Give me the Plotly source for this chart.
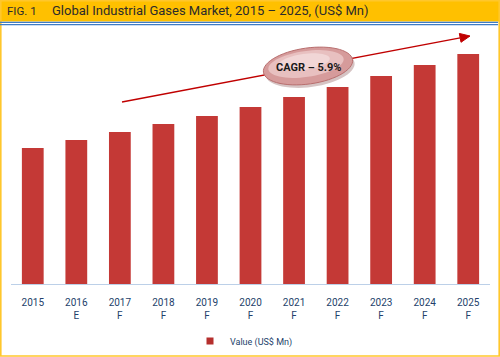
import math
import plotly.graph_objects as go

years = ["2015", "2016", "2017", "2018", "2019", "2020", "2021", "2022", "2023", "2024", "2025"]
suffix = ["", "E", "F", "F", "F", "F", "F", "F", "F", "F", "F"]
values = [136, 144, 152, 160, 168, 177, 187, 197, 208, 219, 230]
tick_labels = [y if s == "" else f"{y}<br>{s}" for y, s in zip(years, suffix)]

W, H = 500, 357
L, R, T, B = 11, 10, 34, 73
PW, PH = W - L - R, H - T - B


def px(x):
    return (x - L) / PW


def py(y):
    return (H - B - y) / PH


fig = go.Figure()
fig.add_trace(go.Bar(
    x=years, y=values, name="Value (US$ Mn)", showlegend=False,
    marker=dict(color="#C43936", line=dict(width=0)),
))
fig.add_trace(go.Scatter(
    x=[None], y=[None], mode="markers", name="Value (US$ Mn)",
    marker=dict(symbol="square", size=7, color="#B52F2D"),
))

shapes = []
shapes.append(dict(type="rect", xref="paper", yref="paper",
                   x0=px(0.8), x1=px(499.2), y0=py(0.8), y1=py(356),
                   line=dict(color="#FFC72C", width=1.6), fillcolor="rgba(0,0,0,0)", layer="above"))
shapes.append(dict(type="rect", xref="paper", yref="paper",
                   x0=px(0), x1=px(500), y0=py(0), y1=py(21.5),
                   line=dict(width=0), fillcolor="#FFC000", layer="below"))
for yy in (22.3, 24.7):
    shapes.append(dict(type="line", xref="paper", yref="paper",
                       x0=px(0), x1=px(498), y0=py(yy), y1=py(yy),
                       line=dict(color="#3F7CC4", width=1.2)))

tx0, ty0, tx1, ty1 = 122, 102, 470, 36
dl = math.hypot(tx1 - tx0, ty1 - ty0)
dx, dy = (tx1 - tx0) / dl, (ty1 - ty0) / dl
nx, ny = -dy, dx
bx, by = tx1 - 10 * dx, ty1 - 10 * dy
shapes.append(dict(type="line", xref="paper", yref="paper",
                   x0=px(tx0), y0=py(ty0), x1=px(bx), y1=py(by),
                   line=dict(color="#C00000", width=1.5)))
tri = "M{},{} L{},{} L{},{} Z".format(
    px(tx1), py(ty1),
    px(bx + 4.5 * nx), py(by + 4.5 * ny),
    px(bx - 4.5 * nx), py(by - 4.5 * ny))
shapes.append(dict(type="path", xref="paper", yref="paper", path=tri,
                   fillcolor="#C00000", line=dict(color="#C00000", width=1)))


def ellipse_path(cx, cy, rx, ry, ang_deg, n=60):
    a = math.radians(ang_deg)
    pts = []
    for i in range(n):
        t = 2 * math.pi * i / n
        ex, ey = rx * math.cos(t), ry * math.sin(t)
        xx = cx + ex * math.cos(a) - ey * math.sin(a)
        yy = cy + ex * math.sin(a) + ey * math.cos(a)
        pts.append((px(xx), py(yy)))
    return "M" + " L".join(f"{x:.5f},{y:.5f}" for x, y in pts) + " Z"


cx, cy = 308, 66
shapes.append(dict(type="path", xref="paper", yref="paper",
                   path=ellipse_path(cx + 2, cy + 3, 45, 18, -8),
                   fillcolor="rgba(120,60,60,0.30)", line=dict(width=0)))
shapes.append(dict(type="path", xref="paper", yref="paper",
                   path=ellipse_path(cx, cy, 45, 18, -8),
                   fillcolor="#D69B9B", line=dict(color="#B86E6E", width=1)))
shapes.append(dict(type="path", xref="paper", yref="paper",
                   path=ellipse_path(cx - 2, cy - 2, 38, 13, -8),
                   fillcolor="#E8C0C0", line=dict(width=0)))
shapes.append(dict(type="path", xref="paper", yref="paper",
                   path=ellipse_path(cx - 4, cy - 4, 26, 8, -8),
                   fillcolor="#F1D6D6", line=dict(width=0)))

annotations = [
    dict(text="FIG. 1", xref="paper", yref="paper", x=px(5), y=py(11),
         xanchor="left", yanchor="middle", showarrow=False,
         font=dict(family="Roboto", size=11.5, color="#2B2B2B")),
    dict(text="Global Industrial Gases Market, 2015 \u2013 2025, (US$ Mn)",
         xref="paper", yref="paper", x=px(50), y=py(11),
         xanchor="left", yanchor="middle", showarrow=False,
         font=dict(family="Roboto", size=13, color="#2B2B2B")),
    dict(text="CAGR \u2013 5.9%", xref="paper", yref="paper", x=px(cx), y=py(cy + 1),
         xanchor="center", yanchor="middle", showarrow=False,
         font=dict(family="Roboto", size=11, color="#1A1A1A", weight="bold")),
]

fig.update_layout(
    width=W, height=H,
    margin=dict(l=L, r=R, t=T, b=B, pad=0, autoexpand=False),
    paper_bgcolor="white", plot_bgcolor="white",
    bargap=0.5,
    showlegend=True,
    legend=dict(orientation="h", x=px(190), xanchor="left", y=py(341), yanchor="middle",
                font=dict(family="Roboto", size=9, color="#243F6B"),
                itemwidth=30, bgcolor="rgba(0,0,0,0)"),
    xaxis=dict(tickmode="array", tickvals=years, ticktext=tick_labels,
               showline=True, linecolor="#BCD0E8", linewidth=1,
               showgrid=False, ticks="", ticklabelstandoff=9,
               tickfont=dict(family="Roboto", size=10, color="#243F6B"),
               fixedrange=True),
    yaxis=dict(range=[0, PH], visible=False, showgrid=False, fixedrange=True),
    shapes=shapes,
    annotations=annotations,
)

fig.write_html("out.html", config={"displayModeBar": False},
               post_script="document.body.style.margin='0';document.body.style.overflow='hidden';")
